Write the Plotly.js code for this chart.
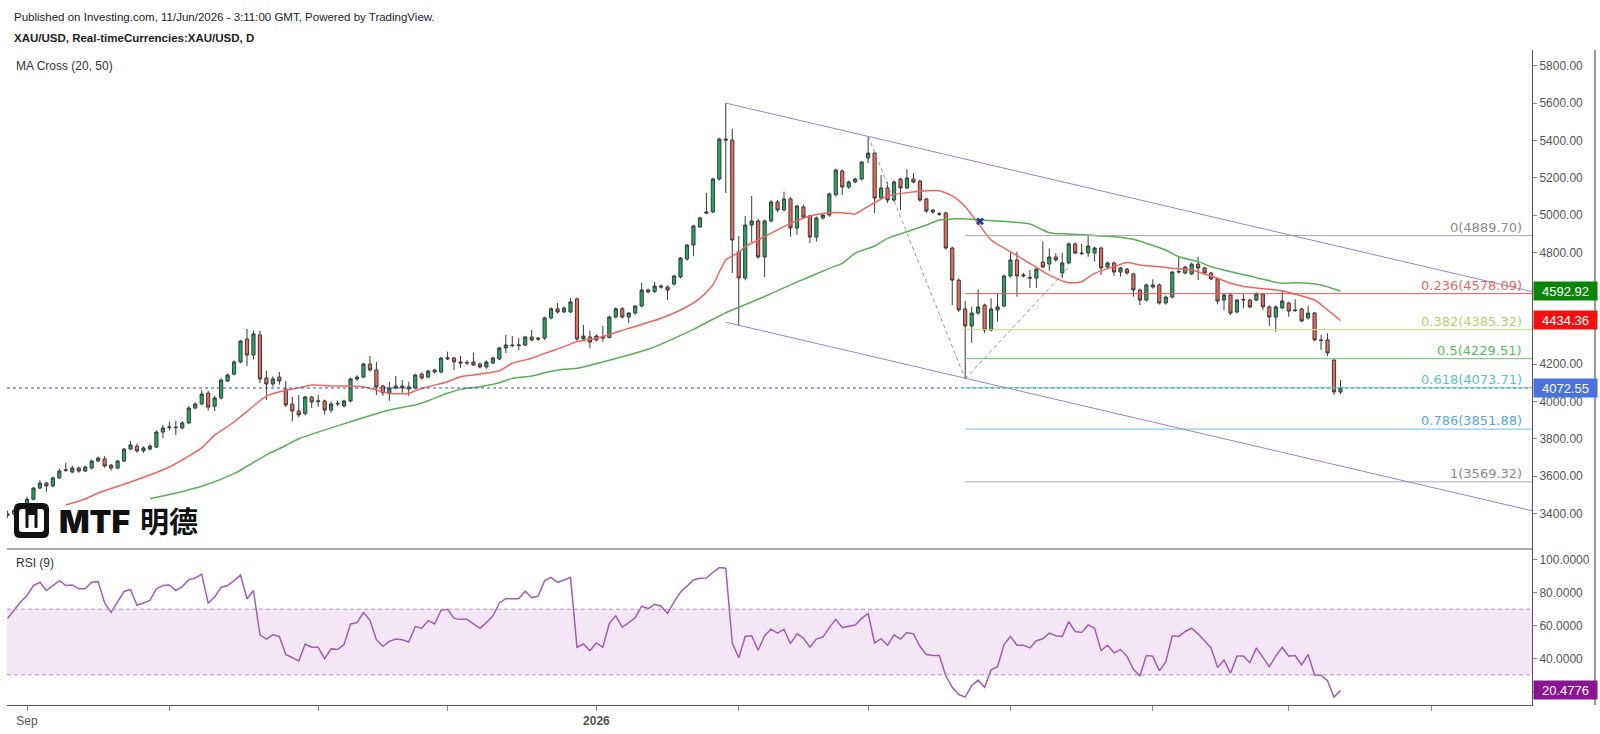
<!DOCTYPE html>
<html><head><meta charset="utf-8">
<script src="https://cdn.plot.ly/plotly-3.0.1.min.js"></script>
<style>html,body{margin:0;padding:0;background:#fff;}#chart{width:1600px;height:734px;}</style>
</head><body><div id="chart"></div>
<script>
// ---------- DATA ----------
const firstDate = '2025-08-27';   // first visible daily bar (weekdays only)
const openP = [3390,3397,3416,3448,3476,3536,3563,3547,3590,3630,
3622,3643,3627,3643,3681,3692,3659,3643,3681,3745,
3761,3735,3745,3756,3836,3860,3863,3858,3885,3965,
3987,4045,3975,4019,4110,4147,4212,4335,4249,4357,
4126,4094,4131,4067,3986,3949,3935,4024,3999,4003,
3954,3987,3976,4003,4121,4131,4201,4169,4083,4046,
4072,4083,4078,4072,4147,4131,4169,4158,4228,4233,
4212,4206,4212,4201,4185,4206,4228,4287,4303,4300,
4303,4346,4340,4340,4448,4497,4480,4480,4550,4335,
4346,4330,4340,4343,4453,4497,4453,4474,4512,4598,
4590,4619,4614,4630,4668,4764,4839,4936,5010,5016,
5193,5407,5402,4802,4662,4946,4968,4775,4968,5070,
5027,5086,4930,5043,4995,4882,4984,5000,5108,5236,
5150,5177,5193,5306,5332,5091,5145,5080,5193,5145,
5193,5182,5086,5027,5008,5011,4823,4651,4496,4405,
4474,4517,4383,4491,4512,4673,4759,4673,4665,4662,
4748,4737,4775,4689,4743,4845,4796,4796,4796,4823,
4721,4743,4694,4710,4684,4598,4544,4625,4625,4528,
4560,4694,4689,4684,4737,4716,4689,4657,4544,4571,
4480,4544,4544,4544,4576,4507,4453,4502,4528,4491,
4496,4448,4474,4330,4330,4222,4051];
const highP = [3415,3425,3455,3490,3540,3578,3570,3598,3640,3672,
3655,3652,3655,3688,3705,3707,3665,3688,3750,3788,
3775,3760,3770,3845,3874,3892,3897,3895,3975,3995,
4062,4058,4030,4125,4150,4220,4330,4389,4380,4380,
4165,4135,4158,4111,4024,4035,4030,4030,4035,4010,
4000,4005,4010,4128,4140,4208,4244,4213,4090,4106,
4137,4115,4106,4150,4155,4170,4175,4240,4267,4240,
4244,4222,4262,4210,4220,4240,4293,4357,4351,4339,
4352,4383,4346,4455,4505,4528,4510,4555,4558,4410,
4380,4360,4405,4460,4505,4505,4480,4518,4637,4605,
4642,4628,4622,4680,4775,4845,4948,4990,5118,5200,
5415,5600,5461,4887,4995,5102,4980,4975,5080,5080,
5125,5095,5055,5055,5000,4992,5010,5120,5248,5245,
5185,5200,5290,5424,5340,5214,5178,5185,5200,5245,
5224,5190,5092,5030,5015,5018,4830,4660,4540,4508,
4601,4525,4553,4583,4680,4798,4803,4690,4705,4718,
4857,4821,4795,4798,4852,4852,4845,4893,4830,4830,
4750,4750,4722,4716,4690,4605,4632,4655,4632,4568,
4700,4776,4728,4745,4776,4722,4695,4665,4580,4580,
4550,4575,4552,4585,4582,4515,4515,4598,4535,4548,
4503,4512,4480,4357,4366,4230,4115];
const lowP = [3375,3385,3405,3436,3470,3530,3516,3540,3585,3623,
3615,3618,3622,3636,3675,3645,3630,3638,3675,3740,
3725,3725,3738,3750,3804,3845,3820,3850,3880,3958,
3980,3951,3949,4010,4105,4140,4205,4190,4226,4099,
4008,4080,4090,3970,3892,3915,3925,3965,3972,3930,
3940,3975,3968,3995,4110,4125,4160,4035,4030,4004,
4065,4046,4030,4065,4118,4125,4150,4150,4222,4169,
4180,4195,4190,4178,4175,4200,4222,4260,4290,4276,
4296,4322,4325,4330,4440,4472,4474,4475,4325,4328,
4285,4322,4320,4338,4445,4445,4421,4465,4505,4580,
4582,4605,4544,4622,4660,4755,4780,4930,5005,5010,
5185,5118,4689,4405,4650,4855,4765,4667,4960,5015,
5020,4884,4893,4980,4850,4857,4975,4990,5100,5108,
5140,5170,5185,5279,5011,5085,5064,5072,5027,5138,
5170,5072,5012,5005,4995,4815,4517,4480,4121,4315,
4465,4366,4375,4428,4505,4665,4562,4665,4609,4609,
4715,4701,4750,4660,4735,4790,4785,4776,4750,4678,
4715,4673,4670,4680,4562,4517,4536,4605,4520,4520,
4552,4685,4682,4678,4651,4682,4650,4521,4490,4464,
4472,4500,4500,4538,4490,4405,4374,4495,4455,4480,
4425,4440,4322,4276,4244,4035,4040];
const closeP = [3397,3416,3448,3476,3536,3563,3547,3590,3627,3633,
3643,3627,3649,3681,3697,3654,3643,3681,3745,3767,
3735,3751,3761,3836,3858,3863,3860,3885,3965,3987,
4040,3970,4019,4115,4142,4212,4324,4249,4362,4121,
4094,4121,4110,3981,3949,3928,4024,3997,4003,3954,
3987,3990,4003,4121,4131,4201,4169,4078,4046,4072,
4083,4072,4067,4142,4126,4163,4158,4233,4233,4212,
4206,4209,4196,4185,4212,4233,4287,4303,4300,4303,
4346,4330,4335,4448,4497,4480,4501,4534,4335,4351,
4319,4351,4343,4453,4497,4453,4474,4512,4598,4587,
4619,4614,4598,4673,4769,4839,4941,4984,5016,5193,
5407,5402,4866,4662,4946,4968,4775,4968,5070,5027,
5086,4930,5048,4989,4882,4984,5000,5113,5241,5150,
5177,5193,5284,5332,5091,5145,5080,5177,5145,5198,
5177,5080,5021,5016,5004,4823,4651,4491,4405,4474,
4507,4383,4496,4507,4673,4759,4673,4678,4662,4710,
4721,4775,4759,4743,4845,4796,4793,4834,4823,4716,
4743,4694,4716,4689,4598,4544,4625,4614,4528,4560,
4694,4697,4721,4737,4716,4689,4657,4539,4571,4474,
4544,4547,4507,4576,4507,4453,4507,4539,4485,4488,
4432,4474,4330,4327,4260,4051,4072.55];
const rsiValues = [64.4,69.4,74.4,78.4,84.4,86.4,81.4,84.4,87.4,84.4,
84.8,82.4,82.4,86.4,86.8,73.8,68,74.4,80.8,82,
72.4,73.8,75.4,82.4,84.4,84.8,81.4,83.8,88,89,
91.4,73.8,77.4,83.4,84.4,87.4,90.8,76.4,81.4,54.4,
51.8,54.4,53.4,42.4,40.4,38.4,48.8,46.8,46.8,39.8,
45.8,45.4,48.4,61,61.8,68,63.4,51.4,47.4,50.4,
51.8,51.4,50,59.4,58.4,63,61,69.4,70,64.4,
63.8,63.8,61,58.4,61.8,65.8,73.8,76.4,76.4,76.4,
81,77,78,87.4,89.4,86.4,87.8,89.4,46.8,48.8,
44.8,49.4,46.8,61.4,66,59,61.8,64.8,71.8,70.4,
73,71.8,67.4,74.4,80.4,84.4,87.8,88.8,89,92.4,
95.4,95,49.4,40.4,53.4,53.8,45,53.8,57.8,55.4,
57.8,49,55,52.4,46.8,51.8,53,58.8,63.8,58.8,
59.4,60.4,64.4,67.4,49.4,52,48,54.4,51.8,55.8,
55,47.4,42.4,41.8,41.8,29.4,22.4,18,16.4,23.4,
26.8,22.4,33,35,48.4,53.4,48,48,46.4,50.8,
52,55.4,53.8,53.4,62.4,56.4,55.8,60.4,58.4,44.8,
48,43.4,45.4,41.4,33.4,29.4,41.8,41.4,32.4,37.8,
53.8,53.4,56.4,58.4,55,50.8,46.4,34.4,39,31,
41.4,41.4,37.4,46.4,40.4,35,41.4,46.8,41.4,41.8,
36,42.4,29.8,29.8,26.4,16.4,20.4776];
// moving averages: bar number (from firstDate) and value
const ma20Bar = [9,12,14,19,25,30,32,35,38,40,43,45,47,50,53,55,58,59,62,63,65,68,70,73,76,78,81,83,86,88,91,96,101,105,107,109,111,113,114,116,119,121,124,127,129,131,132,134,136,139,142,144,146,148,150,152,155,158,161,164,166,168,171,173,175,178,180,183,185,187,189,192,195,197,199,202,204,206];
const ma20Val = [3445,3477,3509,3568,3649,3751,3820,3890,3976,4029,4060,4073,4088,4083,4083,4079,4052,4043,4043,4058,4079,4106,4133,4147,4165,4205,4232,4258,4294,4321,4339,4392,4446,4508,4553,4625,4759,4798,4830,4866,4920,4955,4995,5012,5012,5005,5025,5066,5102,5120,5130,5130,5102,5044,4955,4866,4803,4741,4678,4637,4642,4687,4723,4745,4732,4723,4714,4705,4684,4661,4634,4612,4602,4594,4575,4544,4491,4434.36];
const ma50Bar = [22,25,30,35,40,43,45,59,63,65,68,70,73,76,78,81,83,86,88,95,99,106,111,116,121,127,129,131,134,136,139,142,144,146,149,152,155,158,161,164,167,169,171,174,176,179,181,184,186,189,192,194,197,199,201,203,206];
const ma50Val = [3478,3501,3546,3613,3714,3764,3800,3954,3981,4004,4044,4065,4079,4101,4124,4137,4154,4173,4178,4240,4280,4387,4476,4548,4625,4714,4741,4795,4834,4875,4910,4946,4973,4979,4977,4970,4964,4952,4905,4898,4893,4887,4884,4870,4848,4812,4776,4750,4723,4696,4673,4655,4634,4637,4634,4625,4592.92];
const crossDates = ['2026-03-25 19:00'];
const crossPrices = [4966];
const lastPrice = 4072.55, ma20Last = 4434.36, ma50Last = 4592.92, rsiLast = 20.4776;
// drawings
const channelDates = ['2026-01-29 12:00','2026-07-23 03:00'];
const channelUpper = [5600, 4589];
const channelLower = [4425, 3414];
const zigzagDates = ['2026-03-02 12:00','2026-03-23 12:00','2026-04-14 12:00'];
const zigzagPrices = [5424, 4121, 4720];
const fibStartDate = '2026-03-23 12:00';
const fibRatios = ['0','0.236','0.382','0.5','0.618','0.786','1'];
const fibPrices = [4889.70,4578.09,4385.32,4229.51,4073.71,3851.88,3569.32];
const fibLineColors = ['#a8a8a8','#ef5350','#c8dc8c','#6cc070','#62c6b4','#7db8dd','#a8a8a8'];
const fibTextColors = ['#8a8a8a','#e06b62','#b9d070','#57b85e','#5cc4b2','#5aa6d6','#8a8a8a'];
// axes
const xTickDates = ['2025-09-01','2025-10-01','2025-11-03','2025-12-01','2026-01-01','2026-02-02','2026-03-02','2026-04-01','2026-05-01','2026-06-01','2026-07-01'];
const xTickText = ['Sep','','','','<b>2026</b>','','','','','',''];
const priceTicks = [3400,3600,3800,4000,4200,4400,4600,4800,5000,5200,5400,5600,5800];
const priceTickHidden = [4400,4600];   // labels covered by the value boxes
const rsiTicks = [20,40,60,80,100];
const rsiTickHidden = [20];
const rsiBand = [30,70];

// ---------- helpers ----------
function weekdays(start, n){
  const out=[]; const d=new Date(start+'T00:00:00Z');
  while(out.length<n){const w=d.getUTCDay(); if(w!==0&&w!==6) out.push(d.toISOString().slice(0,10)); d.setUTCDate(d.getUTCDate()+1);}
  return out;
}
const N = openP.length;
const days = weekdays(firstDate, N);
const xs = days.map(d=>d+' 12:00');

const W=1600,H=734,ML=7,MR=68,MT=50,MB=29;
const PW=W-ML-MR, PH=H-MT-MB;
const fx=x=>(x-ML)/PW, fy=y=>1-(y-MT)/PH;
const splitY = fy(549);
function rr(x0,y0,x1,y1,r){
  const P=(x,y)=>fx(x)+','+fy(y);
  return 'M'+P(x0+r,y0)+' L'+P(x1-r,y0)+' Q'+P(x1,y0)+' '+P(x1,y0+r)+' L'+P(x1,y1-r)+' Q'+P(x1,y1)+' '+P(x1-r,y1)+
   ' L'+P(x0+r,y1)+' Q'+P(x0,y1)+' '+P(x0,y1-r)+' L'+P(x0,y0+r)+' Q'+P(x0,y0)+' '+P(x0+r,y0)+' Z';
}

// ---------- traces ----------
const traces = [
 {type:'candlestick', x:xs, open:openP, high:highP, low:lowP, close:closeP, xaxis:'x', yaxis:'y',
  increasing:{line:{color:'#3a3a3a',width:1}, fillcolor:'#22a862'},
  decreasing:{line:{color:'#3a3a3a',width:1}, fillcolor:'#ef6a5b'},
  whiskerwidth:0, hoverinfo:'skip', showlegend:false},
 {type:'scatter', mode:'lines', x:ma20Bar.map(b=>xs[b]), y:ma20Val, xaxis:'x', yaxis:'y',
  line:{color:'#ef6461',width:1.5,shape:'spline',smoothing:0.6}, hoverinfo:'skip', showlegend:false},
 {type:'scatter', mode:'lines', x:ma50Bar.map(b=>xs[b]), y:ma50Val, xaxis:'x', yaxis:'y',
  line:{color:'#5aae5a',width:1.5,shape:'spline',smoothing:0.6}, hoverinfo:'skip', showlegend:false},
 {type:'scatter', mode:'markers', x:crossDates, y:crossPrices, xaxis:'x', yaxis:'y',
  marker:{symbol:'x',size:7,color:'#2c3a8f'}, hoverinfo:'skip', showlegend:false},
 {type:'scatter', mode:'lines', x:xs, y:rsiValues, xaxis:'x', yaxis:'y2',
  line:{color:'#a45cb8',width:1.5}, hoverinfo:'skip', showlegend:false}
];

// ---------- shapes ----------
const shapes = [];
shapes.push({type:'rect',xref:'paper',yref:'y2',x0:0,x1:1,y0:rsiBand[0],y1:rsiBand[1],fillcolor:'#f3e6f5',line:{width:0},layer:'below'});
rsiBand.forEach(v=>shapes.push({type:'line',xref:'paper',yref:'y2',x0:0,x1:1,y0:v,y1:v,line:{color:'#a897ab',width:1,dash:'4px,3px'}}));
shapes.push({type:'line',xref:'paper',yref:'paper',x0:0,x1:1,y0:splitY,y1:splitY,line:{color:'#555',width:1.2}});
shapes.push({type:'line',xref:'paper',yref:'paper',x0:fx(1595),x1:fx(1595),y0:0,y1:1,line:{color:'#333',width:1}});
shapes.push({type:'line',xref:'paper',yref:'y',x0:0,x1:1,y0:lastPrice,y1:lastPrice,line:{color:'#3650a8',width:1,dash:'dot'}});
fibPrices.forEach((p,k)=>shapes.push({type:'line',xref:'x',yref:'y',x0:fibStartDate,x1:channelDates[1],y0:p,y1:p,line:{color:fibLineColors[k],width:1}}));
shapes.push({type:'line',xref:'x',yref:'y',x0:channelDates[0],x1:channelDates[1],y0:channelUpper[0],y1:channelUpper[1],line:{color:'#9a84c8',width:1}});
shapes.push({type:'line',xref:'x',yref:'y',x0:channelDates[0],x1:channelDates[1],y0:channelLower[0],y1:channelLower[1],line:{color:'#9a84c8',width:1}});
for(let k=0;k<zigzagDates.length-1;k++){
  shapes.push({type:'line',xref:'x',yref:'y',x0:zigzagDates[k],x1:zigzagDates[k+1],y0:zigzagPrices[k],y1:zigzagPrices[k+1],line:{color:'#9a9a9a',width:1,dash:'4px,3px'}});
}
// logo
shapes.push({type:'path',xref:'paper',yref:'paper',path:rr(14,503,49,538,6),fillcolor:'#111',line:{width:0},layer:'above'});
shapes.push({type:'path',xref:'paper',yref:'paper',path:rr(19,509,44,532,3),fillcolor:'#fff',line:{width:0},layer:'above'});
shapes.push({type:'path',xref:'paper',yref:'paper',path:rr(25.5,507,28.5,528,1),fillcolor:'#111',line:{width:0},layer:'above'});
shapes.push({type:'path',xref:'paper',yref:'paper',path:rr(34.5,507,37.5,528,1),fillcolor:'#111',line:{width:0},layer:'above'});
shapes.push({type:'rect',xref:'paper',yref:'paper',x0:fx(28),x1:fx(35),y0:fy(508),y1:fy(515),fillcolor:'#111',line:{width:0},layer:'above'});

// ---------- annotations ----------
const ann = [];
const txt=(x,y,t,o)=>ann.push(Object.assign({xref:'paper',yref:'paper',x:fx(x),y:fy(y),xanchor:'left',yanchor:'middle',text:t,showarrow:false,
  font:{family:'Liberation Sans, Arial, sans-serif',size:11.5,color:'#222'}},o||{}));
txt(12,17,'Published on Investing.com, 11/Jun/2026 - 3:11:00 GMT, Powered by TradingView.');
txt(12,38,'<b>XAU/USD, Real-timeCurrencies:XAU/USD, D</b>');
txt(14,66,'MA Cross (20, 50)',{font:{family:'Liberation Sans, Arial, sans-serif',size:12,color:'#333'}});
txt(14,563,'RSI (9)',{font:{family:'Liberation Sans, Arial, sans-serif',size:12,color:'#333'}});
txt(57,521,'MTF',{font:{family:'Inter, sans-serif',size:32,color:'#111',weight:900}});
txt(138,520,'明德',{font:{family:'Noto Sans CJK SC, sans-serif',size:29,color:'#111',weight:700}});
fibPrices.forEach((p,k)=>ann.push({xref:'paper',yref:'y',x:1,xshift:-8,xanchor:'right',y:p,yanchor:'bottom',yshift:-1,
  text:fibRatios[k]+'('+p.toFixed(2)+')',showarrow:false,font:{family:'DejaVu Sans, sans-serif',size:13,color:fibTextColors[k]}}));
const box=(yref,v,t,bg)=>ann.push({xref:'paper',yref:yref,x:1,xshift:1,xanchor:'left',y:v,yanchor:'middle',text:t,showarrow:false,
  bgcolor:bg,width:60,height:15,borderpad:1.5,align:'center',font:{family:'Liberation Sans, Arial, sans-serif',size:13,color:'#fff'}});
box('y',ma50Last,ma50Last.toFixed(2),'#0a850a');
box('y',ma20Last,ma20Last.toFixed(2),'#f51010');
box('y',lastPrice,lastPrice.toFixed(2),'#4a72dc');
box('y2',rsiLast,rsiLast.toFixed(4),'#8a1590');

// ---------- layout ----------
const axCommon = {showgrid:false,zeroline:false,showline:true,linecolor:'#555',linewidth:1,ticks:'outside',ticklen:4,tickcolor:'#888',
  tickfont:{family:'Liberation Sans, Arial, sans-serif',size:12,color:'#555'},fixedrange:true};
const layout = {
  width:W,height:H,margin:{l:ML,r:MR,t:MT,b:MB},paper_bgcolor:'#fff',plot_bgcolor:'#fff',showlegend:false,
  font:{family:'Liberation Sans, Arial, sans-serif',size:12,color:'#555'},
  xaxis:Object.assign({},axCommon,{type:'date',anchor:'y2',range:['2025-08-27 09:50','2026-07-23 02:24'],
    rangebreaks:[{bounds:['sat','mon']}],rangeslider:{visible:false},
    tickvals:xTickDates.map(d=>d+' 12:00'),ticktext:xTickText,ticklen:5}),
  yaxis:Object.assign({},axCommon,{domain:[splitY,1],anchor:'x',side:'right',range:[3209.1,5884.7],tickvals:priceTicks,
    ticktext:priceTicks.map(v=>priceTickHidden.includes(v)?'':v.toFixed(2))}),
  yaxis2:Object.assign({},axCommon,{domain:[0,splitY],anchor:'x',side:'right',range:[11.6,106.7],tickvals:rsiTicks,
    ticktext:rsiTicks.map(v=>rsiTickHidden.includes(v)?'':v.toFixed(4))}),
  shapes:shapes, annotations:ann
};
Plotly.newPlot('chart',traces,layout,{displayModeBar:false,staticPlot:true});
</script></body></html>
